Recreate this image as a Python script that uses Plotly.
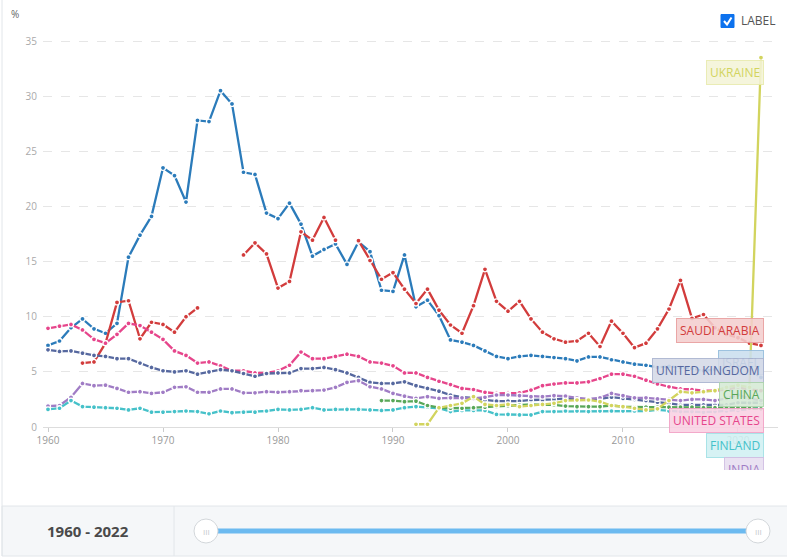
import plotly.graph_objects as go

years = list(range(1960, 2023))

israel = [7.4, 7.8, 9.0, 9.8, 8.9, 8.5, 9.4, 15.4, 17.4, 19.1,
          23.5, 22.8, 20.4, 27.8, 27.7, 30.5, 29.3, 23.1, 22.9, 19.4,
          18.9, 20.3, 18.4, 15.5, 16.1, 16.6, 14.75, 16.8, 15.9, 12.4,
          12.3, 15.6, 10.9, 11.5, 10.1, 7.9, 7.7, 7.4, 6.9, 6.4,
          6.2, 6.4, 6.5, 6.4, 6.3, 6.2, 6.0, 6.35, 6.35, 6.1,
          5.9, 5.7, 5.6, 5.4, 5.5, 5.4, 5.3, 5.1, 5.2, 5.2,
          5.4, 5.2, 4.5]

saudi_arabia = [None, None, None, 5.8, 5.9, 7.6, 11.3, 11.45, 8.0, 9.5,
                9.3, 8.6, 10.0, 10.8, None, None, None, 15.6, 16.7, 15.7,
                12.6, 13.2, 17.7, 16.95, 19.0, 16.95, None, 16.9, 15.1, 13.4,
                14.0, 12.5, 11.2, 12.5, 10.6, 9.25, 8.5, 11.0, 14.3, 11.4,
                10.5, 11.4, 9.8, 8.6, 8.0, 7.7, 7.8, 8.5, 7.3, 9.6,
                8.5, 7.2, 7.6, 8.9, 10.7, 13.3, 9.85, 10.2, 9.0, 8.4,
                8.1, 7.6, 7.4]

united_states = [8.95, 9.15, 9.3, 8.8, 7.95, 7.6, 8.4, 9.4, 9.2, 8.6,
                 7.95, 6.9, 6.5, 5.8, 5.9, 5.55, 5.1, 5.1, 4.9, 4.9,
                 5.1, 5.6, 6.8, 6.2, 6.2, 6.4, 6.6, 6.4, 5.9, 5.8,
                 5.55, 4.9, 4.9, 4.5, 4.15, 3.85, 3.5, 3.4, 3.15, 3.05,
                 3.05, 3.1, 3.35, 3.75, 3.9, 4.0, 4.0, 4.1, 4.4, 4.8,
                 4.8, 4.6, 4.25, 3.9, 3.65, 3.45, 3.4, 3.3, 3.3, 3.4,
                 3.6, 3.4, 3.3]

united_kingdom = [7.0, 6.85, 6.9, 6.7, 6.5, 6.4, 6.2, 6.2, 5.8, 5.4,
                  5.1, 5.0, 5.1, 4.8, 5.0, 5.2, 5.1, 4.85, 4.6, 4.85,
                  4.9, 4.9, 5.3, 5.3, 5.4, 5.2, 4.9, 4.5, 4.05, 3.95,
                  3.95, 4.1, 3.75, 3.5, 3.25, 2.9, 2.7, 2.65, 2.45, 2.35,
                  2.35, 2.35, 2.45, 2.45, 2.5, 2.6, 2.5, 2.5, 2.55, 2.7,
                  2.6, 2.5, 2.4, 2.25, 2.15, 2.0, 2.0, 2.0, 2.0, 2.0,
                  2.2, 2.2, 2.2]

india = [1.9, 1.95, 2.7, 3.95, 3.75, 3.8, 3.5, 3.15, 3.2, 3.05,
         3.15, 3.6, 3.65, 3.15, 3.15, 3.45, 3.45, 3.1, 3.1, 3.2,
         3.15, 3.2, 3.3, 3.3, 3.35, 3.6, 4.05, 4.2, 3.65, 3.45,
         3.05, 2.8, 2.6, 2.75, 2.6, 2.65, 2.65, 2.6, 2.7, 2.9,
         2.9, 2.85, 2.75, 2.75, 2.85, 2.8, 2.65, 2.55, 2.65, 3.05,
         2.85, 2.65, 2.65, 2.55, 2.5, 2.4, 2.5, 2.5, 2.4, 2.6,
         2.9, 2.6, 2.4]

finland = [1.6, 1.7, 2.4, 1.85, 1.8, 1.75, 1.7, 1.55, 1.7, 1.35,
           1.35, 1.4, 1.45, 1.4, 1.2, 1.45, 1.3, 1.35, 1.35, 1.45,
           1.6, 1.55, 1.6, 1.75, 1.55, 1.6, 1.6, 1.6, 1.55, 1.5,
           1.55, 1.75, 1.85, 1.8, 1.7, 1.4, 1.5, 1.5, 1.5, 1.15,
           1.15, 1.1, 1.1, 1.4, 1.4, 1.45, 1.45, 1.4, 1.45, 1.45,
           1.45, 1.45, 1.45, 1.55, 1.45, 1.4, 1.4, 1.35, 1.4, 1.45,
           1.5, 1.6, 1.75]

china = [None] * 29 + [2.4, 2.4, 2.3, 2.35, 1.95, 1.75, 1.7, 1.7, 1.75, 1.8,
                       1.85, 1.9, 2.0, 2.05, 2.0, 2.0, 1.9, 1.85, 1.85, 1.85,
                       1.95, 1.85, 1.8, 1.8, 1.8, 1.8, 1.8, 1.8, 1.75, 1.75,
                       1.75, 1.75, 1.7, 1.65]

ukraine = [None] * 32 + [0.25, 0.25, 1.75, 1.95, 2.15, 2.75, 2.05, 1.95,
                         2.05, 1.85, 1.95, 2.05, 2.15, 2.4, 2.45, 2.45, 2.3, 1.95,
                         1.85, 1.7, 1.55, 1.65, 2.4, 3.2, 3.1, 3.2, 3.3, 3.6,
                         3.8, 3.6, 33.5]

series = [
    ('ISRAEL', israel, '#2b7bba'),
    ('SAUDI ARABIA', saudi_arabia, '#d23c3c'),
    ('UNITED STATES', united_states, '#e6458b'),
    ('UNITED KINGDOM', united_kingdom, '#56689f'),
    ('INDIA', india, '#a07cc5'),
    ('FINLAND', finland, '#45c1c9'),
    ('CHINA', china, '#58a758'),
    ('UKRAINE', ukraine, '#d2d45e'),
]

# label boxes on the right: name -> centre y in pixels
label_y = {
    'UKRAINE': 72.5,
    'SAUDI ARABIA': 330.5,
    'ISRAEL': 362.5,
    'UNITED KINGDOM': 370,
    'CHINA': 394.5,
    'UNITED STATES': 420,
    'FINLAND': 445,
    'INDIA': 469.5,
}
label_order = ['UKRAINE', 'SAUDI ARABIA', 'ISRAEL', 'UNITED KINGDOM',
               'CHINA', 'UNITED STATES', 'FINLAND', 'INDIA']


def px(X):
    return (X - 43) / 735


def py(Y):
    return (427 - Y) / 397


def tint(hex_color, k, a):
    # mix colour with white, k = share of colour
    h = hex_color.lstrip('#')
    r, g, b = [int(h[i:i + 2], 16) for i in (0, 2, 4)]
    r, g, b = [round(255 - (255 - v) * k) for v in (r, g, b)]
    return f'rgba({r},{g},{b},{a})'


fig = go.Figure()

for name, values, color in series:
    fig.add_trace(go.Scatter(
        x=years,
        y=values,
        name=name,
        mode='lines+markers',
        line=dict(color=color, width=2.3),
        marker=dict(size=5, color=color, line=dict(color='white', width=1.3)),
        connectgaps=False,
        showlegend=False
    ))

colors = {name: color for name, _, color in series}

annotations = []
for name in label_order:
    c = colors[name]
    annotations.append(dict(
        x=px(764), y=py(label_y[name]), xref='paper', yref='paper',
        xanchor='right', yanchor='middle',
        text=name, showarrow=False,
        font=dict(size=12, color=c, family='Open Sans'),
        bgcolor=tint(c, 0.25, 0.88), bordercolor=tint(c, 0.5, 0.9), borderwidth=1, borderpad=3
    ))

# hide the lower half of the clipped INDIA label
annotations.append(dict(
    x=px(700), y=py(470), xref='paper', yref='paper', xanchor='left', yanchor='top',
    text='.', showarrow=False, width=86, height=32, bgcolor='white',
    bordercolor='white', borderpad=0, font=dict(color='white')
))

annotations += [
    dict(x=px(15), y=py(14), xref='paper', yref='paper', xanchor='center', yanchor='middle',
         text='%', showarrow=False, font=dict(size=10, color='#666')),
    dict(x=px(739), y=py(21), xref='paper', yref='paper', xanchor='left', yanchor='middle',
         text='LABEL', showarrow=False, font=dict(size=12, color='#555')),
    dict(x=px(88), y=py(531), xref='paper', yref='paper', xanchor='center', yanchor='middle',
         text='<b>1960 - 2022</b>', showarrow=False, font=dict(size=15, color='#4a4a4a')),
    dict(x=px(206), y=py(531), xref='paper', yref='paper', xanchor='center', yanchor='middle',
         text='III', showarrow=False, font=dict(size=8, color='#c4c8cc')),
    dict(x=px(758), y=py(531), xref='paper', yref='paper', xanchor='center', yanchor='middle',
         text='III', showarrow=False, font=dict(size=8, color='#c4c8cc')),
]

check_path = 'M {} {} L {} {} L {} {}'.format(px(724), py(21), px(727), py(24.5), px(731.5), py(17.5))

shapes = [
    # bottom panel
    dict(type='rect', xref='paper', yref='paper', x0=px(2), x1=px(790), y0=py(556), y1=py(506),
         fillcolor='#f5f7f9', line=dict(color='#e2e6ea', width=1), layer='below'),
    dict(type='line', xref='paper', yref='paper', x0=px(174), x1=px(174), y0=py(556), y1=py(506),
         line=dict(color='#e2e6ea', width=1)),
    dict(type='line', xref='paper', yref='paper', x0=px(2), x1=px(2), y0=py(0), y1=py(556),
         line=dict(color='#e2e6ea', width=1)),
    # slider
    dict(type='line', xref='paper', yref='paper', x0=px(206), x1=px(758), y0=py(531), y1=py(531),
         line=dict(color='#6cbaf0', width=5)),
    dict(type='circle', xref='paper', yref='paper', x0=px(194), x1=px(218), y0=py(543), y1=py(519),
         fillcolor='white', line=dict(color='#d3d7db', width=1)),
    dict(type='circle', xref='paper', yref='paper', x0=px(746), x1=px(770), y0=py(543), y1=py(519),
         fillcolor='white', line=dict(color='#d3d7db', width=1)),
    # checkbox
    dict(type='rect', xref='paper', yref='paper', x0=px(721), x1=px(734), y0=py(27.5), y1=py(14.5),
         fillcolor='#0d72ee', line=dict(color='#0d72ee', width=1)),
    dict(type='path', xref='paper', yref='paper', path=check_path,
         line=dict(color='white', width=2)),
]

fig.update_layout(
    width=787,
    height=557,
    margin=dict(l=43, r=9, t=30, b=130),
    paper_bgcolor='white',
    plot_bgcolor='white',
    font=dict(family='Open Sans', size=10, color='#999'),
    xaxis=dict(
        range=[1959.565, 2023.48],
        tickvals=[1960, 1970, 1980, 1990, 2000, 2010, 2020],
        showgrid=False,
        showline=True, linecolor='#dddddd', linewidth=1,
        ticks='outside', ticklen=4, tickcolor='#cccccc',
        tickfont=dict(size=10, color='#999'),
        zeroline=False, fixedrange=True
    ),
    yaxis=dict(
        range=[0, 36],
        tickvals=[0, 5, 10, 15, 20, 25, 30, 35],
        showgrid=True, gridcolor='#e6e6e6', griddash='dash',
        tickfont=dict(size=10, color='#aaa'), ticklabelstandoff=5,
        zeroline=False, showline=False, ticks='', fixedrange=True
    ),
    annotations=annotations,
    shapes=shapes,
    showlegend=False
)

fig.write_html("out.html", config={'displayModeBar': False},
               post_script="document.body.style.margin='0';")
